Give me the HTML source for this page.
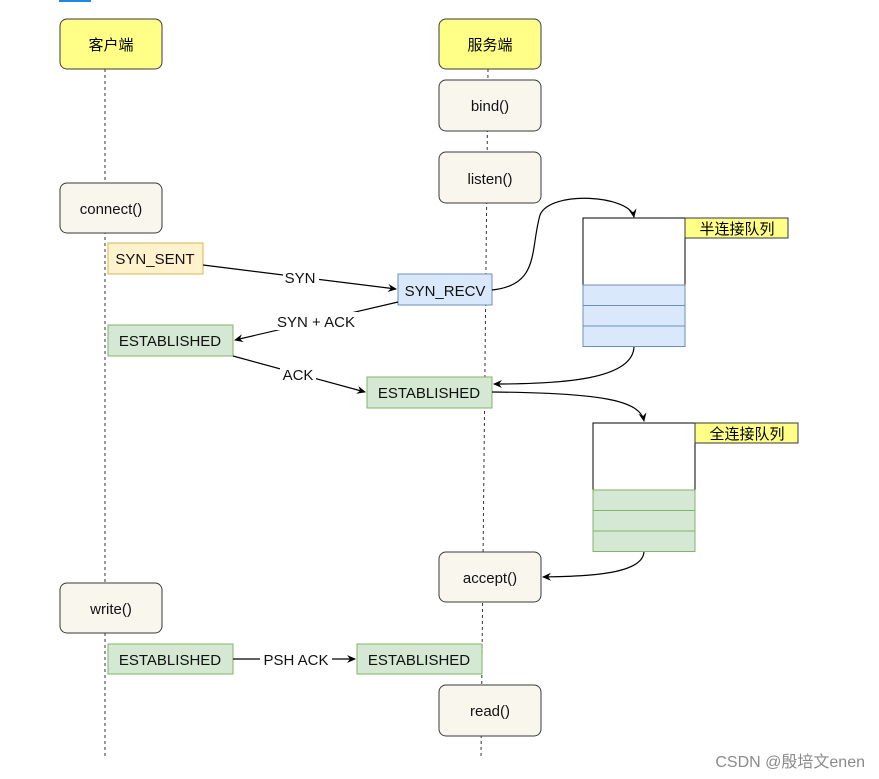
<!DOCTYPE html>
<html><head><meta charset="utf-8"><style>
html,body{margin:0;padding:0;background:#fff;}
svg{display:block;}
text{font-family:"Liberation Sans","Noto Sans CJK SC",sans-serif;}
</style></head><body>
<svg width="879" height="779" viewBox="0 0 879 779" xmlns="http://www.w3.org/2000/svg">
<defs>
<marker id="a" markerWidth="10" markerHeight="10" refX="8" refY="5" orient="auto" markerUnits="userSpaceOnUse">
<path d="M0,1 L9,5 L0,9 L3,5 Z" fill="#000"/></marker>
</defs>
<rect x="59" y="0" width="32" height="2" fill="#1e88e5"/>
<line x1="105" y1="69" x2="105" y2="757" stroke="#333" stroke-dasharray="3,3"/>
<line x1="488" y1="69" x2="481" y2="757" stroke="#333" stroke-dasharray="3,3"/>
<rect x="60" y="19" width="102" height="50" rx="7" fill="#ffff88" stroke="#36393d"/>
<text x="111" y="50" font-size="15" text-anchor="middle">客户端</text>
<rect x="439" y="19" width="102" height="50" rx="7" fill="#ffff88" stroke="#36393d"/>
<text x="490" y="50" font-size="15" text-anchor="middle">服务端</text>
<g fill="#f9f7ed" stroke="#36393d">
<rect x="439" y="80" width="102" height="51" rx="7"/>
<rect x="439" y="152" width="102" height="51" rx="7"/>
<rect x="60" y="183" width="102" height="50" rx="7"/>
<rect x="439" y="552" width="102" height="50" rx="7"/>
<rect x="60" y="583" width="102" height="50" rx="7"/>
<rect x="439" y="685" width="102" height="51" rx="7"/>
</g>
<g font-size="15" text-anchor="middle" fill="#111">
<text x="490" y="111">bind()</text>
<text x="490" y="184">listen()</text>
<text x="111" y="214">connect()</text>
<text x="490" y="583">accept()</text>
<text x="111" y="614">write()</text>
<text x="490" y="716">read()</text>
</g>
<rect x="108" y="243" width="95" height="31" fill="#fff2cc" stroke="#d6b656"/>
<rect x="398" y="274" width="94" height="31" fill="#dae8fc" stroke="#6c8ebf"/>
<g fill="#d5e8d4" stroke="#82b366">
<rect x="108" y="325" width="125" height="31"/>
<rect x="367" y="377" width="125" height="31"/>
<rect x="108" y="644" width="125" height="30"/>
<rect x="357" y="644" width="125" height="30"/>
</g>
<g font-size="15" text-anchor="middle" fill="#111">
<text x="155" y="264">SYN_SENT</text>
<text x="445" y="296">SYN_RECV</text>
<text x="170" y="346">ESTABLISHED</text>
<text x="429" y="398">ESTABLISHED</text>
<text x="170" y="665">ESTABLISHED</text>
<text x="419" y="665">ESTABLISHED</text>
</g>
<g stroke="#000" stroke-width="1.2" fill="none">
<line x1="203" y1="265" x2="396" y2="289" marker-end="url(#a)"/>
<line x1="398" y1="302" x2="235" y2="340" marker-end="url(#a)"/>
<line x1="233" y1="356" x2="365" y2="392" marker-end="url(#a)"/>
<line x1="233" y1="659" x2="355" y2="659" marker-end="url(#a)"/>
<path d="M492,290 C540,285 530,250 540,215 C550,190 630,195 634,217" marker-end="url(#a)"/>
<path d="M634,346 C634,380 560,384 494,384" marker-end="url(#a)"/>
<path d="M492,392 C600,393 640,400 644,421" marker-end="url(#a)"/>
<path d="M644,551 C644,576 580,576 543,577" marker-end="url(#a)"/>
</g>
<g font-size="15" text-anchor="middle" fill="#111">
<rect x="283" y="268" width="36" height="18" fill="#fff"/>
<text x="300" y="283">SYN</text>
<rect x="272" y="312" width="90" height="18" fill="#fff"/>
<text x="316" y="327">SYN + ACK</text>
<rect x="280" y="366" width="36" height="18" fill="#fff"/>
<text x="298" y="380">ACK</text>
<rect x="260" y="650" width="72" height="18" fill="#fff"/>
<text x="296" y="665">PSH ACK</text>
</g>
<rect x="583" y="218" width="102" height="67" fill="#fff" stroke="#000"/>
<g fill="#dae8fc" stroke="#6c8ebf">
<rect x="583" y="285" width="102" height="20.5"/>
<rect x="583" y="305.5" width="102" height="20.5"/>
<rect x="583" y="326" width="102" height="20.5"/>
</g>
<rect x="685" y="218" width="103" height="20" fill="#ffff88" stroke="#36393d"/>
<text x="737" y="234" font-size="15" text-anchor="middle">半连接队列</text>
<rect x="593" y="423" width="102" height="67" fill="#fff" stroke="#000"/>
<g fill="#d5e8d4" stroke="#82b366">
<rect x="593" y="490" width="102" height="20.5"/>
<rect x="593" y="510.5" width="102" height="20.5"/>
<rect x="593" y="531" width="102" height="20.5"/>
</g>
<rect x="695" y="423" width="103" height="20" fill="#ffff88" stroke="#36393d"/>
<text x="747" y="439" font-size="15" text-anchor="middle">全连接队列</text>
<text x="865" y="767" font-size="16" text-anchor="end" fill="#8a8a8a">CSDN @殷培文enen</text>
</svg>
</body></html>
